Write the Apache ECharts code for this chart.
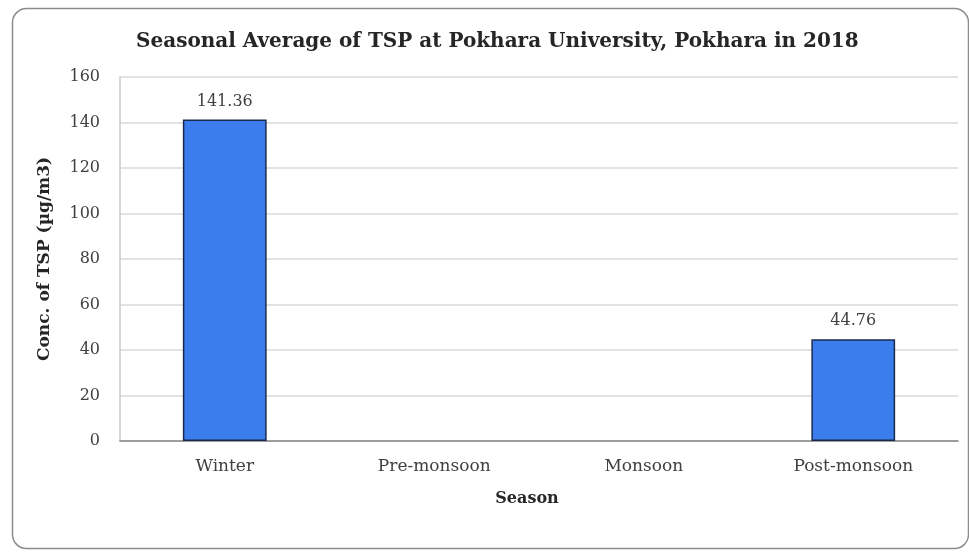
<!DOCTYPE html>
<html><head><meta charset="utf-8">
<script src="https://cdn.jsdelivr.net/npm/echarts@6/dist/echarts.min.js"></script>
<style>html,body{margin:0;padding:0;background:#fff}#c{width:969px;height:552px}</style>
</head><body><div id="c"></div>
<script>
const categories = ['Winter', 'Pre-monsoon', 'Monsoon', 'Post-monsoon'];
const tspValues = [141.36, null, null, 44.76];
const yTicks = [0, 20, 40, 60, 80, 100, 120, 140, 160];
const titleText = 'Seasonal Average of TSP at Pokhara University, Pokhara in 2018';
const xName = 'Season';
const yName = 'Conc. of TSP (µg/m3)';

const FONT = 'DejaVu Serif';
const chart = echarts.init(document.getElementById('c'));
chart.setOption({
  animation: false,
  backgroundColor: '#fff',
  graphic: [{
    type: 'rect', left: 10, top: 6,
    shape: { width: 956, height: 540, r: 14 },
    style: { fill: 'none', stroke: '#8c8c8c', lineWidth: 1.5 }, z: -1
  }],
  title: {
    text: titleText, left: 131, top: 27,
    textStyle: { fontFamily: FONT, fontWeight: 'bold', fontSize: 20, color: '#262626' }
  },
  grid: { left: 120, right: 11, top: 77, bottom: 111 },
  xAxis: {
    type: 'category', data: categories,
    name: xName, nameLocation: 'middle', nameGap: 50,
    nameTextStyle: { fontFamily: FONT, fontWeight: 'bold', fontSize: 16, color: '#262626', padding: [0, 24, 0, 0] },
    axisLine: { lineStyle: { color: '#868686', width: 1.5 } },
    axisTick: { show: false },
    axisLabel: { fontFamily: FONT, fontSize: 17, color: '#404040', margin: 17 }
  },
  yAxis: {
    type: 'value', min: yTicks[0], max: yTicks[yTicks.length - 1], interval: yTicks[1] - yTicks[0],
    name: yName, nameLocation: 'middle', nameGap: 67,
    nameTextStyle: { fontFamily: FONT, fontWeight: 'bold', fontSize: 17, color: '#262626' },
    axisLine: { show: true, lineStyle: { color: '#c8c8c8', width: 1.5 } },
    axisTick: { show: false },
    axisLabel: { fontFamily: FONT, fontSize: 16, color: '#404040', margin: 20 },
    splitLine: { lineStyle: { color: '#d9d9d9', width: 1.5 } }
  },
  series: [{
    type: 'bar', data: tspValues, barWidth: '40%',
    itemStyle: { color: '#3b7ded', borderColor: '#1a2a4d', borderWidth: 1.5 },
    label: { show: true, position: 'top', distance: 10, fontFamily: FONT, fontSize: 16, color: '#404040',
      formatter: p => p.value.toFixed(2) }
  }]
});
</script></body></html>
